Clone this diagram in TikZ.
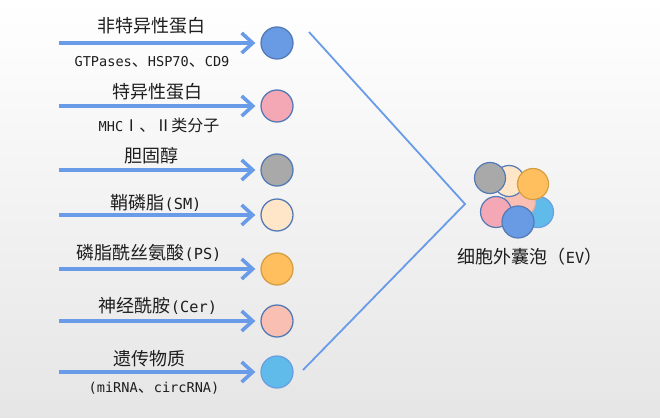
\documentclass[tikz,border=0pt]{standalone}
\usepackage{fontspec}
\setmainfont{DejaVu Sans Mono}[Scale=0.85]
\newfontfamily\cjkfont{Noto Sans CJK SC}
\newcommand{\zh}[1]{{\cjkfont #1}}
\usetikzlibrary{arrows.meta}
\definecolor{arrcol}{RGB}{106,155,232}
\definecolor{bdr}{RGB}{84,122,182}
\definecolor{cblue}{RGB}{104,155,228}
\definecolor{cpink}{RGB}{244,167,181}
\definecolor{cgray}{RGB}{169,169,169}
\definecolor{ccream}{RGB}{255,230,200}
\definecolor{corange}{RGB}{255,191,94}
\definecolor{corgbdr}{RGB}{214,158,66}
\definecolor{csalmon}{RGB}{248,191,178}
\definecolor{csky}{RGB}{96,186,234}
\definecolor{cskybdr}{RGB}{104,160,226}
\definecolor{txt}{RGB}{30,30,30}
\tikzset{
  circ/.style={circle, draw=bdr, line width=1.3pt, minimum size=32pt, inner sep=0pt},
  ecirc/.style={circle, draw=bdr, line width=1.2pt, minimum size=31pt, inner sep=0pt},
  arr/.style={draw=arrcol, line width=3.6pt, -{Straight Barb[length=11pt,width=20pt]}, shorten >=5pt},
  chev/.style={draw=arrcol, line width=1.8pt},
  big/.style={text=txt, font=\fontsize{18}{20}\selectfont, inner sep=0pt},
  small/.style={text=txt, font=\fontsize{16}{18}\selectfont, inner sep=0pt}
}
\begin{document}
\begin{tikzpicture}[x=1pt,y=-1pt]
\useasboundingbox (0,0) rectangle (660,417);
\shade[top color=white, bottom color=black!10] (0,0) rectangle (660,417);

% left circles
\node[circ, fill=cblue] (c1) at (277,43) {};
\node[circ, fill=cpink] (c2) at (277,106) {};
\node[circ, fill=cgray] (c3) at (277,170) {};
\node[circ, fill=ccream] (c4) at (277,215) {};
\node[circ, fill=corange, draw=corgbdr] (c5) at (277,269) {};
\node[circ, fill=csalmon] (c6) at (277,321) {};
\node[circ, fill=csky, draw=cskybdr] (c7) at (277,372) {};

% arrow starts
\coordinate (s1) at (59,43);
\coordinate (s2) at (59,106);
\coordinate (s3) at (59,170);
\coordinate (s4) at (59,215);
\coordinate (s5) at (59,269);
\coordinate (s6) at (59,321);
\coordinate (s7) at (59,372);
\foreach \i in {1,...,7} { \draw[arr] (s\i) -- (c\i.west); }

% labels
\node[big] (l1) at (151,26) {\zh{非特异性蛋白}};
\node[small] (d1) at (152,62) {GTPases\zh{、}HSP70\zh{、}CD9};
\node[big] (l2) at (157,92) {\zh{特异性蛋白}};
\node[small] (d2) at (159,125) {MHC\zh{Ⅰ、Ⅱ类分子}};
\node[big] (l3) at (151,156) {\zh{胆固醇}};
\node[big] (l4) at (156,203) {\zh{鞘磷脂}(SM)};
\node[big] (l5) at (149,253) {\zh{磷脂酰丝氨酸}(PS)};
\node[big] (l6) at (158,306) {\zh{神经酰胺}(Cer)};
\node[big] (l7) at (149,359) {\zh{遗传物质}};
\node[small] (d7) at (154,388) {(miRNA\zh{、}circRNA)};

% chevron
\coordinate (ct) at (309,32);
\coordinate (cv) at (465,204);
\coordinate (cb) at (303,370);
\draw[chev] (ct) -- (cv) -- (cb);

% vesicle cluster
\node[ecirc, fill=csky, draw=cskybdr] (e5) at (538,212) {};
\node[ecirc, fill=csalmon, draw=csalmon!90!black] (e4) at (520,202) {};
\node[ecirc, fill=ccream] (e2) at (509,181) {};
\node[ecirc, fill=cgray] (e1) at (490,178) {};
\node[ecirc, fill=corange, draw=corgbdr] (e3) at (533,184) {};
\node[ecirc, fill=cpink] (e6) at (496,212) {};
\node[ecirc, fill=cblue, minimum size=32pt] (e7) at (518,222) {};
\node[big] (ev) at (530,257) {\zh{细胞外囊泡（}EV\zh{）}};
\end{tikzpicture}
\end{document}
